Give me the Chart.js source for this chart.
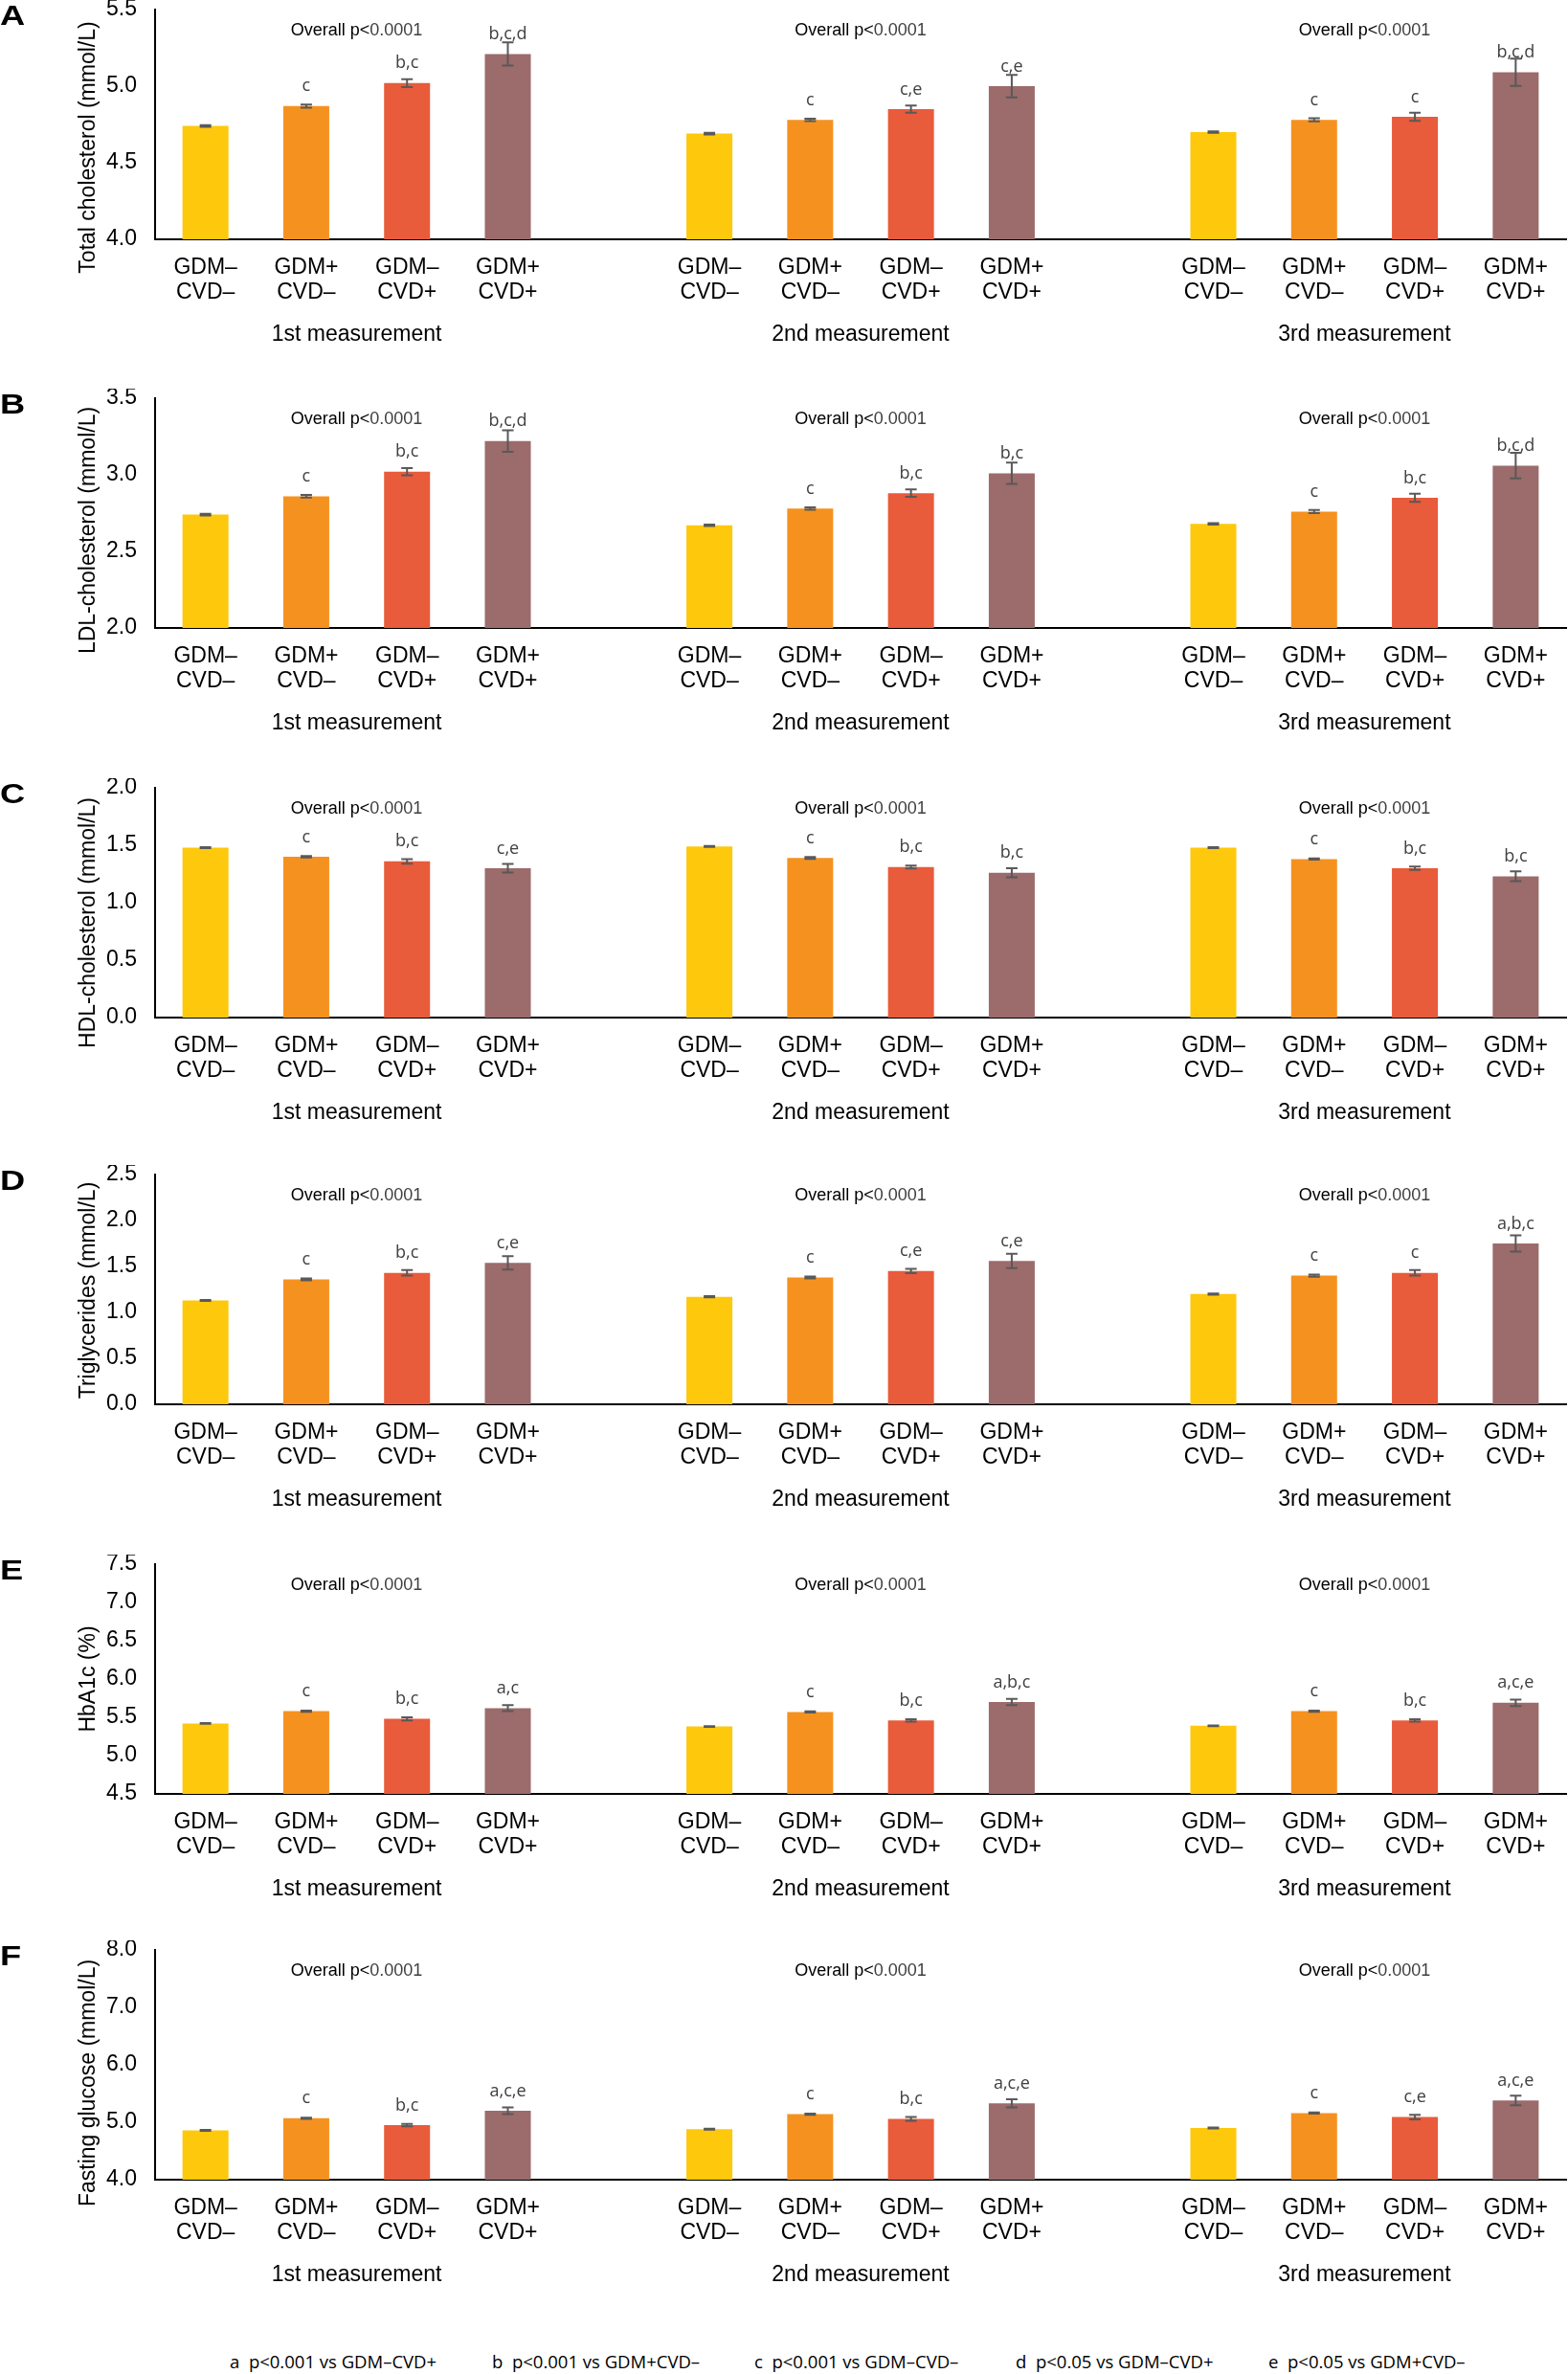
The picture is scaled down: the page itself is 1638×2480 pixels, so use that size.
<!DOCTYPE html>
<html>
<head>
<meta charset="utf-8">
<script src="https://cdn.jsdelivr.net/npm/chart.js@4.4.1/dist/chart.umd.min.js"></script>
<style>
  body { margin: 0; background: #fff; width: 1638px; height: 2480px; position: relative; overflow: hidden; }
  canvas { position: absolute; left: 0; }
  .leg { position: absolute; top: 2458px; font: 18.5px "Open Sans", sans-serif; line-height: 18px; white-space: pre; color: #000; }
</style>
</head>
<body>
<canvas id="pA" width="1638" height="405" style="top:0px"></canvas>
<canvas id="pB" width="1638" height="405" style="top:406px"></canvas>
<canvas id="pC" width="1638" height="405" style="top:813px"></canvas>
<canvas id="pD" width="1638" height="405" style="top:1217px"></canvas>
<canvas id="pE" width="1638" height="405" style="top:1624px"></canvas>
<canvas id="pF" width="1638" height="405" style="top:2027px"></canvas>
<div class="leg" style="left:240px">a  p&lt;0.001 vs GDM–CVD+</div>
<div class="leg" style="left:514px">b  p&lt;0.001 vs GDM+CVD–</div>
<div class="leg" style="left:788px">c  p&lt;0.001 vs GDM–CVD–</div>
<div class="leg" style="left:1061px">d  p&lt;0.05 vs GDM–CVD+</div>
<div class="leg" style="left:1325px">e  p&lt;0.05 vs GDM+CVD–</div>
<script>
// groups and the 4 subgroups inside each
var groups = ['1st measurement', '2nd measurement', '3rd measurement'];
var subgroups = [['GDM–', 'CVD–'], ['GDM+', 'CVD–'], ['GDM–', 'CVD+'], ['GDM+', 'CVD+']];
var barColors = ['#FEC80C', '#F5921F', '#E85B3B', '#9C6B6B'];

// means, errors and significance letters (1st, 2nd, 3rd measurement, 4 bars each)
var tcMean = [4.74, 4.87, 5.02, 5.21, 4.69, 4.78, 4.85, 5.00, 4.70, 4.78, 4.80, 5.09];
var tcErr  = [0.005, 0.01, 0.026, 0.076, 0.005, 0.008, 0.024, 0.074, 0.005, 0.01, 0.027, 0.089];
var tcSig  = ['', 'c', 'b,c', 'b,c,d', '', 'c', 'c,e', 'c,e', '', 'c', 'c', 'b,c,d'];

var ldlMean = [2.74, 2.86, 3.02, 3.22, 2.67, 2.78, 2.88, 3.01, 2.68, 2.76, 2.85, 3.06];
var ldlErr  = [0.005, 0.008, 0.023, 0.07, 0.005, 0.008, 0.024, 0.07, 0.005, 0.01, 0.026, 0.083];
var ldlSig  = ['', 'c', 'b,c', 'b,c,d', '', 'c', 'b,c', 'b,c', '', 'c', 'b,c', 'b,c,d'];

var hdlMean = [1.48, 1.40, 1.36, 1.30, 1.49, 1.39, 1.31, 1.26, 1.48, 1.38, 1.30, 1.23];
var hdlErr  = [0.004, 0.006, 0.02, 0.037, 0.004, 0.008, 0.013, 0.039, 0.004, 0.006, 0.015, 0.043];
var hdlSig  = ['', 'c', 'b,c', 'c,e', '', 'c', 'b,c', 'b,c', '', 'c', 'b,c', 'b,c'];

var tgMean = [1.13, 1.36, 1.43, 1.54, 1.17, 1.38, 1.45, 1.56, 1.20, 1.40, 1.43, 1.75];
var tgErr  = [0.006, 0.01, 0.03, 0.073, 0.006, 0.01, 0.024, 0.079, 0.006, 0.012, 0.03, 0.089];
var tgSig  = ['', 'c', 'b,c', 'c,e', '', 'c', 'c,e', 'c,e', '', 'c', 'c', 'a,b,c'];

var hbMean = [5.42, 5.58, 5.48, 5.62, 5.38, 5.57, 5.46, 5.70, 5.39, 5.58, 5.46, 5.69];
var hbErr  = [0.005, 0.008, 0.02, 0.04, 0.005, 0.008, 0.016, 0.04, 0.005, 0.008, 0.016, 0.042];
var hbSig  = ['', 'c', 'b,c', 'a,c', '', 'c', 'b,c', 'a,b,c', '', 'c', 'b,c', 'a,c,e'];

var fgMean = [4.86, 5.07, 4.95, 5.20, 4.88, 5.14, 5.06, 5.33, 4.90, 5.16, 5.09, 5.38];
var fgErr  = [0.008, 0.01, 0.02, 0.06, 0.008, 0.01, 0.033, 0.07, 0.008, 0.012, 0.039, 0.084];
var fgSig  = ['', 'c', 'b,c', 'a,c,e', '', 'c', 'b,c', 'a,c,e', '', 'c', 'c,e', 'a,c,e'];

var panels = [
  { id: 'pA', letter: 'A', title: 'Total cholesterol (mmol/L)', min: 4.0, max: 5.5, step: 0.5, mean: tcMean, err: tcErr, sig: tcSig, shift: 24 },
  { id: 'pB', letter: 'B', title: 'LDL-cholesterol (mmol/L)', min: 2.0, max: 3.5, step: 0.5, mean: ldlMean, err: ldlErr, sig: ldlSig, shift: 18 },
  { id: 'pC', letter: 'C', title: 'HDL-cholesterol (mmol/L)', min: 0.0, max: 2.0, step: 0.5, mean: hdlMean, err: hdlErr, sig: hdlSig, shift: 21 },
  { id: 'pD', letter: 'D', title: 'Triglycerides (mmol/L)', min: 0.0, max: 2.5, step: 0.5, mean: tgMean, err: tgErr, sig: tgSig, shift: 1 },
  { id: 'pE', letter: 'E', title: 'HbA1c (%)', min: 4.5, max: 7.5, step: 0.5, mean: hbMean, err: hbErr, sig: hbSig, shift: 0 },
  { id: 'pF', letter: 'F', title: 'Fasting glucose (mmol/L)', min: 4.0, max: 8.0, step: 1.0, mean: fgMean, err: fgErr, sig: fgSig, shift: 19 }
];

var ARIAL = '"Liberation Sans", Arial, sans-serif';
Chart.defaults.font.family = ARIAL;

// put an empty slot between the groups
function spread(vals, blank) {
  var out = [];
  for (var g = 0; g < groups.length; g++) {
    if (g > 0) out.push(blank);
    for (var k = 0; k < 4; k++) out.push(vals[g * 4 + k]);
  }
  return out;
}

var labels = spread([].concat(subgroups, subgroups, subgroups), '');
var colors = spread([].concat(barColors, barColors, barColors), 'rgba(0,0,0,0)');

function makePlugin(p) {
  var mean = spread(p.mean, null), err = spread(p.err, null), sig = spread(p.sig, '');
  return {
    id: 'annot',
    afterDatasetsDraw: function (chart) {
      var ctx = chart.ctx, x = chart.scales.x, y = chart.scales.y, area = chart.chartArea;
      var meta = chart.getDatasetMeta(0);
      ctx.save();
      // error bars
      ctx.strokeStyle = '#595959';
      ctx.lineWidth = 2;
      meta.data.forEach(function (el, i) {
        if (mean[i] == null) return;
        var yt = y.getPixelForValue(mean[i] + err[i]);
        var yb = y.getPixelForValue(mean[i] - err[i]);
        ctx.beginPath();
        ctx.moveTo(el.x, yt); ctx.lineTo(el.x, yb);
        ctx.moveTo(el.x - 6, yt); ctx.lineTo(el.x + 6, yt);
        ctx.moveTo(el.x - 6, yb); ctx.lineTo(el.x + 6, yb);
        ctx.stroke();
      });
      // significance letters
      ctx.fillStyle = '#404040';
      ctx.font = '18px "Open Sans", sans-serif';
      ctx.textAlign = 'center';
      ctx.textBaseline = 'alphabetic';
      meta.data.forEach(function (el, i) {
        if (sig[i]) ctx.fillText(sig[i], el.x, el.y - 15.5);
      });
      // group texts
      groups.forEach(function (name, g) {
        var cx = (x.getPixelForValue(g * 5) + x.getPixelForValue(g * 5 + 3)) / 2;
        ctx.font = '23px ' + ARIAL;
        ctx.fillStyle = '#000';
        ctx.textAlign = 'center';
        ctx.fillText(name, cx, area.bottom + 106);
        ctx.font = '18px ' + ARIAL;
        var a = 'Overall p<', b = '0.0001';
        var wa = ctx.measureText(a).width, wb = ctx.measureText(b).width;
        var sx = cx - (wa + wb) / 2;
        ctx.textAlign = 'left';
        ctx.fillStyle = '#000';
        ctx.fillText(a, sx, area.top + 27);
        ctx.fillStyle = '#404040';
        ctx.fillText(b, sx + wa, area.top + 27);
      });
      // y axis title
      ctx.save();
      ctx.translate(93, (area.top + area.bottom) / 2 + p.shift);
      ctx.rotate(-Math.PI / 2);
      ctx.font = '23px ' + ARIAL;
      ctx.fillStyle = '#000';
      ctx.textAlign = 'center';
      ctx.textBaseline = 'middle';
      ctx.fillText(p.title, 0, 0);
      ctx.restore();
      // panel letter
      ctx.save();
      ctx.translate(0, area.top + 16);
      ctx.scale(1.25, 1);
      ctx.font = 'bold 29px ' + ARIAL;
      ctx.fillStyle = '#000';
      ctx.textAlign = 'left';
      ctx.fillText(p.letter, 0, 0);
      ctx.restore();
      ctx.restore();
    }
  };
}

panels.forEach(function (p) {
  var ctx = document.getElementById(p.id).getContext('2d');
  new Chart(ctx, {
    type: 'bar',
    data: {
      labels: labels,
      datasets: [{
        data: spread(p.mean, null),
        backgroundColor: colors,
        borderWidth: 0,
        barPercentage: 0.456,
        categoryPercentage: 1.0
      }]
    },
    options: {
      responsive: false,
      animation: false,
      devicePixelRatio: 1,
      layout: { padding: { top: 10, right: 2, left: 0, bottom: 0 } },
      plugins: { legend: { display: false }, tooltip: { enabled: false } },
      scales: {
        x: {
          grid: { display: false, drawTicks: false },
          border: { display: true, color: '#000', width: 2 },
          ticks: { color: '#000', font: { size: 23, lineHeight: 1.13 }, padding: 17, autoSkip: false, maxRotation: 0 },
          afterFit: function (a) { a.height = 155; a.paddingLeft = 0; a.paddingRight = 0; }
        },
        y: {
          min: p.min,
          max: p.max,
          grid: { display: false, drawTicks: false },
          border: { display: true, color: '#000', width: 2 },
          ticks: {
            stepSize: p.step, color: '#000', font: { size: 23 }, padding: 19,
            callback: function (v) { return v.toFixed(1); }
          },
          afterFit: function (a) { a.width = 162; a.paddingTop = 0; a.paddingBottom = 0; }
        }
      }
    },
    plugins: [makePlugin(p)]
  });
});
</script>
</body>
</html>
